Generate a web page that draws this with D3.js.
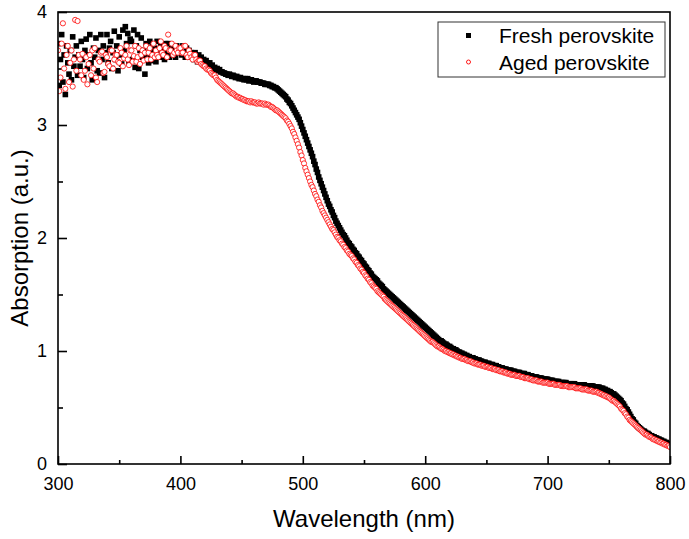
<!DOCTYPE html>
<html>
<head>
<meta charset="utf-8">
<script src="https://cdn.jsdelivr.net/npm/d3@7"></script>
<style>
    body { margin: 0; background: #fff; }
    text { font-family: Arial, "Liberation Sans", sans-serif; fill: #000; }
</style>
</head>
<body>
<div id="absVis"></div>
<script>

// spectra, one value per nm from 300 to 800 nm (one row = 10 nm)
const wlStart = 300;
const wlStep = 1;

const freshAbs = [
    3.72, 3.35, 3.58, 3.80, 3.38, 3.62, 3.27, 3.70, 3.55, 3.45,
    3.66, 3.40, 3.78, 3.52, 3.60, 3.70, 3.44, 3.62, 3.52, 3.74,
    3.58, 3.42, 3.66, 3.76, 3.50, 3.62, 3.80, 3.55, 3.40, 3.68,
    3.60, 3.77, 3.48, 3.66, 3.46, 3.80, 3.58, 3.70, 3.42, 3.64,
    3.80, 3.55, 3.68, 3.74, 3.50, 3.64, 3.83, 3.58, 3.70, 3.48,
    3.78, 3.62, 3.54, 3.84, 3.66, 3.87, 3.72, 3.81, 3.56, 3.76,
    3.74, 3.58, 3.84, 3.51, 3.70, 3.80, 3.50, 3.66, 3.77, 3.60,
    3.66, 3.45, 3.72, 3.62, 3.55, 3.74, 3.64, 3.70, 3.57, 3.68,
    3.56, 3.74, 3.66, 3.60, 3.70, 3.62, 3.68, 3.58, 3.72, 3.64,
    3.72, 3.60, 3.66, 3.70, 3.62, 3.68, 3.60, 3.70, 3.64, 3.66,
    3.68, 3.62, 3.70, 3.64, 3.60, 3.68, 3.62, 3.66, 3.60, 3.64,
    3.62, 3.58, 3.64, 3.60, 3.56, 3.62, 3.58, 3.60, 3.55, 3.58,
    3.56, 3.57, 3.55, 3.53, 3.55, 3.52, 3.53, 3.50, 3.51, 3.49,
    3.50, 3.48, 3.49, 3.47, 3.47, 3.46, 3.46, 3.45, 3.45, 3.44,
    3.45, 3.44, 3.43, 3.44, 3.43, 3.42, 3.43, 3.42, 3.41, 3.42,
    3.41, 3.41, 3.40, 3.41, 3.40, 3.41, 3.39, 3.40, 3.40, 3.39,
    3.38, 3.39, 3.39, 3.38, 3.38, 3.38, 3.37, 3.37, 3.37, 3.36,
    3.36, 3.36, 3.36, 3.35, 3.35, 3.34, 3.34, 3.33, 3.33, 3.32,
    3.31, 3.30, 3.29, 3.28, 3.27, 3.26, 3.25, 3.23, 3.22, 3.20,
    3.19, 3.17, 3.15, 3.13, 3.11, 3.09, 3.07, 3.05, 3.02, 2.99,
    2.96, 2.93, 2.90, 2.87, 2.84, 2.81, 2.78, 2.75, 2.72, 2.68,
    2.65, 2.61, 2.58, 2.54, 2.51, 2.48, 2.45, 2.42, 2.39, 2.36,
    2.33, 2.30, 2.28, 2.25, 2.23, 2.20, 2.18, 2.15, 2.13, 2.11,
    2.09, 2.07, 2.05, 2.03, 2.02, 2.00, 1.98, 1.96, 1.95, 1.93,
    1.92, 1.90, 1.89, 1.87, 1.86, 1.84, 1.83, 1.81, 1.80, 1.78,
    1.77, 1.75, 1.74, 1.72, 1.71, 1.69, 1.68, 1.66, 1.65, 1.64,
    1.63, 1.62, 1.60, 1.59, 1.58, 1.57, 1.55, 1.54, 1.53, 1.52,
    1.51, 1.50, 1.49, 1.48, 1.47, 1.46, 1.45, 1.44, 1.43, 1.42,
    1.41, 1.40, 1.39, 1.38, 1.37, 1.36, 1.35, 1.34, 1.33, 1.32,
    1.31, 1.30, 1.29, 1.28, 1.27, 1.26, 1.25, 1.24, 1.23, 1.22,
    1.21, 1.20, 1.19, 1.18, 1.17, 1.16, 1.15, 1.14, 1.13, 1.12,
    1.11, 1.10, 1.09, 1.09, 1.08, 1.07, 1.06, 1.06, 1.05, 1.04,
    1.04, 1.03, 1.02, 1.02, 1.01, 1.01, 1.00, 0.99, 0.99, 0.98,
    0.98, 0.97, 0.97, 0.96, 0.96, 0.95, 0.95, 0.94, 0.94, 0.94,
    0.93, 0.93, 0.92, 0.92, 0.92, 0.91, 0.91, 0.90, 0.90, 0.90,
    0.89, 0.89, 0.89, 0.88, 0.88, 0.88, 0.87, 0.87, 0.87, 0.86,
    0.86, 0.85, 0.85, 0.85, 0.84, 0.84, 0.84, 0.83, 0.83, 0.83,
    0.83, 0.82, 0.82, 0.82, 0.81, 0.81, 0.81, 0.81, 0.80, 0.80,
    0.80, 0.80, 0.79, 0.79, 0.79, 0.78, 0.78, 0.78, 0.77, 0.77,
    0.77, 0.77, 0.76, 0.76, 0.76, 0.76, 0.75, 0.75, 0.75, 0.75,
    0.75, 0.74, 0.74, 0.74, 0.74, 0.73, 0.73, 0.73, 0.73, 0.73,
    0.72, 0.72, 0.72, 0.72, 0.72, 0.72, 0.71, 0.71, 0.71, 0.71,
    0.71, 0.71, 0.71, 0.70, 0.70, 0.70, 0.70, 0.70, 0.70, 0.70,
    0.70, 0.69, 0.69, 0.69, 0.69, 0.69, 0.69, 0.69, 0.68, 0.68,
    0.68, 0.68, 0.68, 0.67, 0.67, 0.67, 0.66, 0.66, 0.65, 0.65,
    0.64, 0.64, 0.63, 0.62, 0.62, 0.61, 0.60, 0.59, 0.58, 0.57,
    0.56, 0.54, 0.53, 0.51, 0.49, 0.48, 0.46, 0.44, 0.42, 0.40,
    0.39, 0.37, 0.36, 0.34, 0.33, 0.32, 0.31, 0.30, 0.29, 0.29,
    0.28, 0.27, 0.27, 0.26, 0.25, 0.25, 0.24, 0.24, 0.23, 0.23,
    0.22, 0.22, 0.21, 0.21, 0.20, 0.20, 0.19, 0.19, 0.18, 0.18,
    0.17
];

const agedAbs = [
    3.66, 3.30, 3.42, 3.72, 3.90, 3.50, 3.32, 3.62, 3.70, 3.38,
    3.55, 3.66, 3.34, 3.58, 3.93, 3.48, 3.92, 3.62, 3.58, 3.44,
    3.63, 3.40, 3.48, 3.60, 3.36, 3.54, 3.62, 3.44, 3.66, 3.50,
    3.68, 3.42, 3.38, 3.58, 3.56, 3.64, 3.65, 3.46, 3.47, 3.62,
    3.60, 3.54, 3.52, 3.66, 3.66, 3.50, 3.58, 3.62, 3.62, 3.56,
    3.55, 3.68, 3.64, 3.52, 3.59, 3.62, 3.70, 3.58, 3.53, 3.66,
    3.66, 3.56, 3.61, 3.70, 3.56, 3.60, 3.68, 3.54, 3.62, 3.66,
    3.57, 3.64, 3.70, 3.58, 3.64, 3.68, 3.58, 3.62, 3.72, 3.60,
    3.66, 3.62, 3.60, 3.68, 3.74, 3.64, 3.62, 3.70, 3.68, 3.60,
    3.80, 3.66, 3.66, 3.72, 3.62, 3.64, 3.70, 3.66, 3.64, 3.68,
    3.68, 3.64, 3.64, 3.70, 3.70, 3.62, 3.60, 3.66, 3.63, 3.60,
    3.58, 3.62, 3.62, 3.58, 3.56, 3.57, 3.57, 3.54, 3.53, 3.52,
    3.52, 3.50, 3.49, 3.49, 3.48, 3.46, 3.45, 3.44, 3.44, 3.42,
    3.40, 3.39, 3.38, 3.37, 3.36, 3.35, 3.34, 3.33, 3.32, 3.31,
    3.30, 3.29, 3.28, 3.28, 3.27, 3.26, 3.25, 3.25, 3.24, 3.24,
    3.23, 3.23, 3.22, 3.22, 3.21, 3.21, 3.21, 3.20, 3.21, 3.20,
    3.20, 3.20, 3.19, 3.19, 3.20, 3.19, 3.19, 3.19, 3.18, 3.19,
    3.18, 3.18, 3.18, 3.17, 3.16, 3.16, 3.15, 3.14, 3.13, 3.13,
    3.12, 3.11, 3.10, 3.09, 3.08, 3.07, 3.06, 3.04, 3.03, 3.01,
    2.99, 2.97, 2.94, 2.92, 2.89, 2.86, 2.83, 2.80, 2.76, 2.73,
    2.69, 2.66, 2.62, 2.59, 2.56, 2.53, 2.50, 2.47, 2.45, 2.42,
    2.39, 2.37, 2.34, 2.32, 2.29, 2.27, 2.24, 2.22, 2.20, 2.18,
    2.16, 2.14, 2.12, 2.10, 2.08, 2.07, 2.05, 2.03, 2.01, 2.00,
    1.98, 1.97, 1.95, 1.94, 1.92, 1.91, 1.89, 1.88, 1.86, 1.85,
    1.84, 1.82, 1.81, 1.79, 1.78, 1.76, 1.75, 1.73, 1.72, 1.70,
    1.69, 1.67, 1.66, 1.64, 1.63, 1.61, 1.60, 1.58, 1.57, 1.56,
    1.55, 1.53, 1.52, 1.51, 1.50, 1.49, 1.48, 1.46, 1.45, 1.44,
    1.43, 1.42, 1.41, 1.40, 1.39, 1.38, 1.37, 1.36, 1.35, 1.34,
    1.33, 1.32, 1.31, 1.30, 1.29, 1.28, 1.27, 1.26, 1.25, 1.24,
    1.23, 1.22, 1.21, 1.20, 1.19, 1.18, 1.17, 1.16, 1.15, 1.14,
    1.13, 1.12, 1.11, 1.10, 1.09, 1.08, 1.08, 1.07, 1.06, 1.05,
    1.04, 1.04, 1.03, 1.02, 1.02, 1.01, 1.00, 1.00, 0.99, 0.99,
    0.98, 0.98, 0.97, 0.97, 0.96, 0.96, 0.95, 0.95, 0.94, 0.94,
    0.93, 0.93, 0.93, 0.92, 0.92, 0.91, 0.91, 0.91, 0.90, 0.90,
    0.89, 0.89, 0.89, 0.88, 0.88, 0.88, 0.87, 0.87, 0.87, 0.86,
    0.86, 0.86, 0.85, 0.85, 0.85, 0.84, 0.84, 0.84, 0.83, 0.83,
    0.83, 0.82, 0.82, 0.82, 0.81, 0.81, 0.81, 0.80, 0.80, 0.80,
    0.79, 0.79, 0.79, 0.79, 0.78, 0.78, 0.78, 0.78, 0.77, 0.77,
    0.77, 0.76, 0.76, 0.76, 0.76, 0.75, 0.75, 0.75, 0.74, 0.74,
    0.74, 0.74, 0.73, 0.73, 0.73, 0.73, 0.72, 0.72, 0.72, 0.72,
    0.72, 0.71, 0.71, 0.71, 0.71, 0.71, 0.70, 0.70, 0.70, 0.70,
    0.70, 0.69, 0.69, 0.69, 0.69, 0.69, 0.69, 0.68, 0.68, 0.68,
    0.68, 0.68, 0.68, 0.67, 0.67, 0.67, 0.67, 0.67, 0.66, 0.66,
    0.66, 0.66, 0.66, 0.65, 0.65, 0.65, 0.65, 0.64, 0.64, 0.64,
    0.64, 0.63, 0.63, 0.62, 0.62, 0.61, 0.61, 0.60, 0.60, 0.59,
    0.59, 0.58, 0.57, 0.56, 0.56, 0.55, 0.54, 0.53, 0.52, 0.51,
    0.49, 0.48, 0.47, 0.45, 0.44, 0.42, 0.41, 0.39, 0.38, 0.37,
    0.36, 0.35, 0.34, 0.33, 0.32, 0.31, 0.30, 0.29, 0.28, 0.27,
    0.26, 0.26, 0.25, 0.24, 0.24, 0.23, 0.22, 0.22, 0.21, 0.21,
    0.20, 0.20, 0.19, 0.19, 0.18, 0.18, 0.17, 0.17, 0.16, 0.16,
    0.15
];

const seriesNames = ["Fresh perovskite", "Aged perovskite"];
const xTicks = [300, 400, 500, 600, 700, 800];
const xMinorTicks = [350, 450, 550, 650, 750];
const yTicks = [0, 1, 2, 3, 4];
const yMinorTicks = [0.5, 1.5, 2.5, 3.5];


class AbsVis {

    constructor(parentElement) {
        this.parentElement = parentElement;
        this.initVis();
    }

    initVis() {
        let vis = this;

        vis.margin = {top: 12, right: 19, bottom: 75, left: 58};
        vis.width = 689 - vis.margin.left - vis.margin.right;
        vis.height = 539 - vis.margin.top - vis.margin.bottom;

        vis.svg = d3.select('#' + vis.parentElement).append('svg')
            .attr('width', 689)
            .attr('height', 539);

        vis.g = vis.svg.append('g')
            .attr('transform', 'translate(' + vis.margin.left + ',' + vis.margin.top + ')');

        vis.x = d3.scaleLinear().domain([300, 800]).range([0, vis.width]);
        vis.y = d3.scaleLinear().domain([0, 4]).range([vis.height, 0]);

        vis.svg.append('defs').append('clipPath')
            .attr('id', 'plotClip')
            .append('rect')
            .attr('width', vis.width)
            .attr('height', vis.height);

        vis.wrangleData();
    }

    wrangleData() {
        let vis = this;

        // pair every absorbance with its wavelength
        vis.fresh = freshAbs.map((v, i) => ({wl: wlStart + i * wlStep, a: v}));
        vis.aged = agedAbs.map((v, i) => ({wl: wlStart + i * wlStep, a: v}));

        vis.updateVis();
    }

    updateVis() {
        let vis = this;

        // ticks point inward, like the original plot
        let xAxis = d3.axisBottom(vis.x).tickValues(xTicks).tickFormat(d3.format('d'))
            .tickSize(-8).tickSizeOuter(0).tickPadding(13);
        let xMinor = d3.axisBottom(vis.x).tickValues(xMinorTicks)
            .tickSize(-4).tickSizeOuter(0).tickFormat('');
        let yAxis = d3.axisLeft(vis.y).tickValues(yTicks).tickFormat(d3.format('d'))
            .tickSize(-9).tickSizeOuter(0).tickPadding(11);
        let yMinor = d3.axisLeft(vis.y).tickValues(yMinorTicks)
            .tickSize(-5).tickSizeOuter(0).tickFormat('');

        [[xAxis, 'x'], [xMinor, 'x'], [yAxis, 'y'], [yMinor, 'y']].forEach(function (a) {
            let ax = vis.g.append('g')
                .attr('transform', a[1] === 'x' ? 'translate(0,' + vis.height + ')' : null)
                .call(a[0]);
            ax.select('.domain').remove();
            ax.selectAll('line').attr('stroke', '#000').attr('stroke-width', 1.6);
            ax.selectAll('text').attr('font-size', 18);
        });

        let plot = vis.g.append('g').attr('clip-path', 'url(#plotClip)');

        // fresh: filled black squares
        plot.selectAll('rect.fresh')
            .data(vis.fresh)
            .enter()
            .append('rect')
            .attr('class', 'fresh')
            .attr('x', d => vis.x(d.wl) - 2.8)
            .attr('y', d => vis.y(d.a) - 2.8)
            .attr('width', 5.6)
            .attr('height', 5.6)
            .attr('fill', '#000');

        // aged: open red circles on top
        plot.selectAll('circle.aged')
            .data(vis.aged)
            .enter()
            .append('circle')
            .attr('class', 'aged')
            .attr('cx', d => vis.x(d.wl))
            .attr('cy', d => vis.y(d.a))
            .attr('r', 2.6)
            .attr('fill', '#fff')
            .attr('stroke', '#ff0000')
            .attr('stroke-width', 0.8);

        // frame
        vis.g.append('rect')
            .attr('width', vis.width)
            .attr('height', vis.height)
            .attr('fill', 'none')
            .attr('stroke', '#000')
            .attr('stroke-width', 1.6);

        // axis titles
        vis.g.append('text')
            .attr('x', vis.width / 2)
            .attr('y', vis.height + 63)
            .attr('text-anchor', 'middle')
            .attr('font-size', 24)
            .text('Wavelength (nm)');

        vis.g.append('text')
            .attr('transform', 'translate(' + (-30) + ',' + (vis.height / 2) + ') rotate(-90)')
            .attr('text-anchor', 'middle')
            .attr('font-size', 24)
            .text('Absorption (a.u.)');

        // legend
        let legend = vis.g.append('g').attr('transform', 'translate(380,10)');
        legend.append('rect')
            .attr('width', 227)
            .attr('height', 55)
            .attr('fill', '#fff')
            .attr('stroke', '#333')
            .attr('stroke-width', 1);

        legend.append('rect')
            .attr('x', 28).attr('y', 11)
            .attr('width', 5).attr('height', 5)
            .attr('fill', '#000');
        legend.append('circle')
            .attr('cx', 30.5).attr('cy', 40)
            .attr('r', 2)
            .attr('fill', '#fff')
            .attr('stroke', '#ff0000')
            .attr('stroke-width', 0.9);

        legend.selectAll('text.leg')
            .data(seriesNames)
            .enter()
            .append('text')
            .attr('class', 'leg')
            .attr('x', 61)
            .attr('y', (d, i) => 21 + i * 27)
            .attr('font-size', 21)
            .text(d => d);
    }
}

new AbsVis('absVis');
</script>
</body>
</html>
